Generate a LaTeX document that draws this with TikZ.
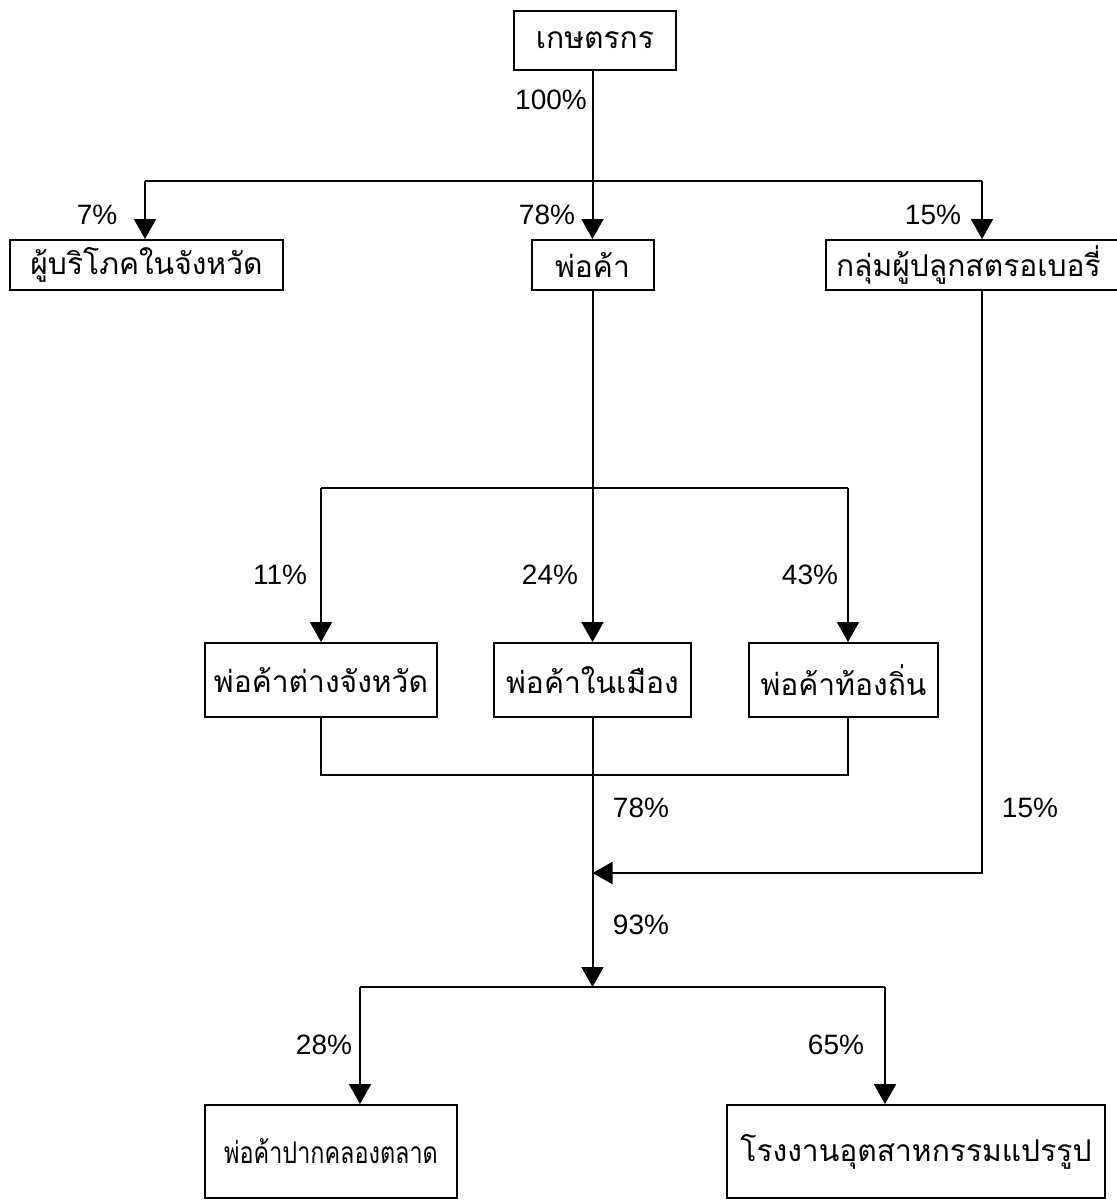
\documentclass[tikz,border=0pt]{standalone}
\usepackage{fontspec}
\setmainfont{Liberation Sans}
\newfontfamily\thaifont[Script=Thai]{Loma}
\usetikzlibrary{arrows.meta}
\tikzstyle{box}=[draw, line width=1pt, inner sep=0pt,
                 font=\thaifont\fontsize{15}{18}\selectfont]
\tikzstyle{flow}=[line width=1pt,
                  -{Triangle[width=11pt,length=10pt]}]
\tikzstyle{link}=[line width=1pt]
\tikzstyle{pct}=[inner sep=0pt, font=\fontsize{14}{16}\selectfont]

\begin{document}
\begin{tikzpicture}[x=0.5pt, y=-0.5pt]
   \useasboundingbox (0,0) rectangle (1117,1200);
   \clip (0,0) rectangle (1117,1200);
   % boxes
   \node (farmer)   at (595,40)    [box, minimum width=81pt,  minimum height=29.5pt]{เกษตรกร};
   \node (consumer) at (146.5,265) [box, minimum width=136.5pt, minimum height=25pt]{ผู้บริโภคในจังหวัด};
   \node (trader)   at (592.5,265) [box, minimum width=61pt,  minimum height=25pt]{พ่อค้า};
   \node (growers)  at (976,265)   [box, minimum width=150pt, minimum height=25pt, text width=140pt, align=left]{กลุ่มผู้ปลูกสตรอเบอรี่};
   \node (outprov)  at (321,680)   [box, minimum width=116pt, minimum height=37pt]{พ่อค้าต่างจังหวัด};
   \node (city)     at (592.5,680) [box, minimum width=98.5pt, minimum height=37pt]{พ่อค้าในเมือง};
   \node (local)    at (843.5,680) [box, minimum width=94.5pt, minimum height=37pt]{พ่อค้าท้องถิ่น};
   \node (market)   at (331,1151.5) [box, minimum width=126pt, minimum height=46.5pt]{\scalebox{0.78}[1]{พ่อค้าปากคลองตลาด}};
   \node (factory)  at (916,1151.5) [box, minimum width=189pt, minimum height=46.5pt]{โรงงานอุตสาหกรรมแปรรูป};

   % junction points
   \coordinate (ta) at (145,181);
   \coordinate (tb) at (982,181);
   \coordinate (ma) at (321,488);
   \coordinate (mb) at (848,488);
   \coordinate (ja) at (321,775);
   \coordinate (jb) at (848,775);
   \coordinate (rc) at (982,873);
   \coordinate (lc) at (592.5,873);
   \coordinate (hub) at (592.5,987);
   \coordinate (ba) at (360,987);
   \coordinate (bb) at (885,987);

   % connectors
   \draw [link] (ta) -- (tb);
   \draw [link] (ma) -- (mb);
   \draw [link] (ba) -- (bb);
   \draw [flow] (trader.north |- farmer.south) -- (trader.north);
   \draw [flow] (trader.south) -- (city.north);
   \draw [flow] (ta) -- (ta |- consumer.north);
   \draw [flow] (tb) -- (tb |- growers.north);
   \draw [flow] (ma) -- (ma |- outprov.north);
   \draw [flow] (mb) -- (mb |- local.north);
   \draw [link] (outprov.south) -- (ja) -- (jb) -- (jb |- local.south);
   \draw [flow] (city.south) -- (hub);
   \draw [flow] (tb |- growers.south) -- (rc) -- (lc);
   \draw [flow] (ba) -- (ba |- market.north);
   \draw [flow] (bb) -- (bb |- factory.north);

   % shares
   \node (p100) at (551,100)  [pct]{100\%};
   \node (p7)   at (97,215)   [pct]{7\%};
   \node (p78a) at (547,215)  [pct]{78\%};
   \node (p15a) at (933,215)  [pct]{15\%};
   \node (p11)  at (280,575)  [pct]{11\%};
   \node (p24)  at (550,575)  [pct]{24\%};
   \node (p43)  at (810,575)  [pct]{43\%};
   \node (p78b) at (641,808)  [pct]{78\%};
   \node (p15b) at (1030,808) [pct]{15\%};
   \node (p93)  at (641,925)  [pct]{93\%};
   \node (p28)  at (324,1045) [pct]{28\%};
   \node (p65)  at (836,1045) [pct]{65\%};
\end{tikzpicture}
\end{document}
